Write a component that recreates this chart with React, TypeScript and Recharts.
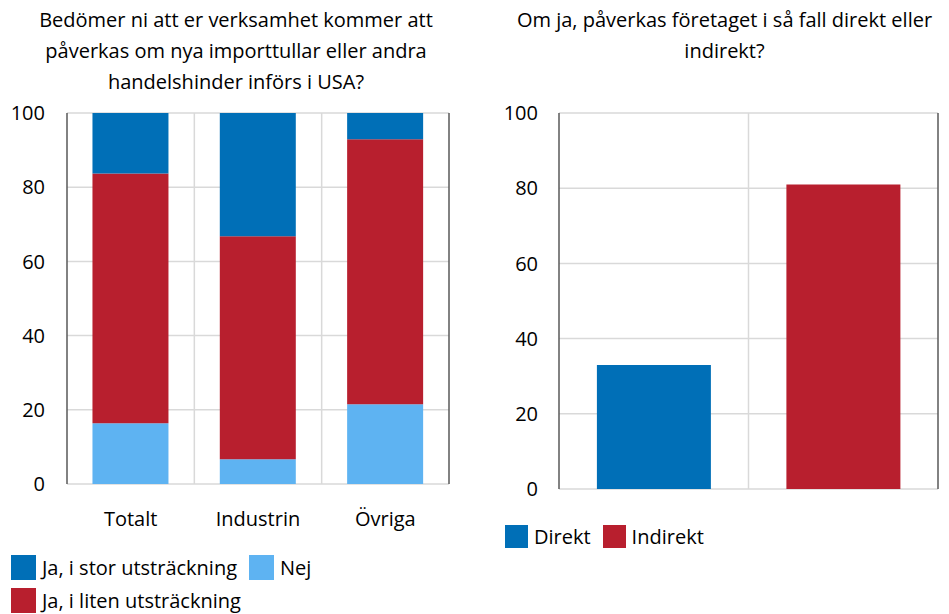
import React from "react";
import {
  BarChart,
  Bar,
  XAxis,
  YAxis,
  CartesianGrid,
  Legend,
} from "recharts";

// left panel
const categories = ["Totalt", "Industrin", "Övriga"];
const jaStor = [16.3, 33.2, 7.1];
const jaLiten = [67.3, 60.1, 71.4];
const nej = [16.4, 6.7, 21.5];

// right panel
const rightCategories = ["Direkt", "Indirekt"];
const rightValues = [33, 81];

const yTicks = [0, 20, 40, 60, 80, 100];

const BLUE = "#006FB7";
const RED = "#B81F2E";
const LIGHT = "#5EB3F2";
const AXIS = "#595959";
const GRID = "#D9D9D9";
const FONT = "'Open Sans', sans-serif";

const leftData = categories.map((c, i) => ({
  name: c,
  stor: jaStor[i],
  liten: jaLiten[i],
  nej: nej[i],
}));

const rightData = rightCategories.map((c, i) => ({
  name: c,
  Direkt: i === 0 ? rightValues[i] : 0,
  Indirekt: i === 1 ? rightValues[i] : 0,
}));

const leftLegend = [
  { label: "Ja, i stor utsträckning", color: BLUE },
  { label: "Nej", color: LIGHT },
  { label: "Ja, i liten utsträckning", color: RED },
];
const rightLegend = [
  { label: "Direkt", color: BLUE },
  { label: "Indirekt", color: RED },
];

function LegendBox({ items, size }: { items: { label: string; color: string }[]; size: number }) {
  return (
    <div style={{ display: "flex", flexWrap: "wrap", rowGap: 8, columnGap: 12 }}>
      {items.map((it) => (
        <div key={it.label} style={{ display: "flex", alignItems: "center", height: size }}>
          <span style={{ width: size, height: size, background: it.color, display: "inline-block" }} />
          <span style={{ marginLeft: 6, fontSize: 20, lineHeight: "24px", color: "#000", fontFamily: FONT, whiteSpace: "nowrap" }}>
            {it.label}
          </span>
        </div>
      ))}
    </div>
  );
}

// vertical grid lines at category boundaries
const splitLines = (n: number) => (props: any) => {
  const { offset } = props;
  const out: number[] = [];
  for (let i = 1; i < n; i++) out.push(offset.left + (offset.width * i) / n);
  return out;
};

const tickStyle = { fontSize: 20, fill: "#000", fontFamily: FONT };

export default function App() {
  return (
    <div style={{ position: "absolute", left: 0, top: 0, width: 949, height: 614, fontFamily: FONT, background: "#fff" }}>
      <div style={{ position: "absolute", left: 36, top: 4, width: 400, textAlign: "center", fontSize: 20, lineHeight: "31px" }}>
        Bedömer ni att er verksamhet kommer att
        <br />
        påverkas om nya importtullar eller andra
        <br />
        handelshinder införs i USA?
      </div>
      <div style={{ position: "absolute", left: 500, top: 4, width: 449, textAlign: "center", fontSize: 20, lineHeight: "31px" }}>
        Om ja, påverkas företaget i så fall direkt eller
        <br />
        indirekt?
      </div>

      <div style={{ position: "absolute", left: 0, top: 0 }}>
        <BarChart
          width={470}
          height={614}
          data={leftData}
          barCategoryGap="20%"
          margin={{ top: 113, right: 21, bottom: 90, left: 0 }}
        >
          <CartesianGrid stroke={GRID} strokeWidth={1.5} verticalCoordinatesGenerator={splitLines(3)} />
          <XAxis dataKey="name" height={40} tick={tickStyle} tickLine={false} axisLine={false} tickSize={0} tickMargin={28} />
          <YAxis domain={[0, 100]} ticks={yTicks} width={67} tick={tickStyle} tickLine={false} tickSize={0} tickMargin={22} axisLine={{ stroke: AXIS, strokeWidth: 1.5 }} />
          <YAxis yAxisId="l2" orientation="left" mirror domain={[0, 100]} ticks={yTicks} tick={false} axisLine={false} tickSize={10} tickLine={{ stroke: AXIS, strokeWidth: 1.5 }} />
          <YAxis yAxisId="r" orientation="right" mirror domain={[0, 100]} ticks={yTicks} tick={false} tickSize={10} tickLine={{ stroke: AXIS, strokeWidth: 1.5 }} axisLine={{ stroke: AXIS, strokeWidth: 1.5 }} />
          <Bar dataKey="nej" stackId="s" fill={LIGHT} isAnimationActive={false} />
          <Bar dataKey="liten" stackId="s" fill={RED} isAnimationActive={false} />
          <Bar dataKey="stor" stackId="s" fill={BLUE} isAnimationActive={false} />
          <Legend
            layout="horizontal"
            verticalAlign="middle"
            align="center"
            wrapperStyle={{ left: 11, top: 555, width: 340 }}
            content={() => <LegendBox items={leftLegend} size={25} />}
          />
        </BarChart>
      </div>

      <div style={{ position: "absolute", left: 490, top: 0 }}>
        <BarChart
          width={459}
          height={614}
          data={rightData}
          barCategoryGap="20%"
          margin={{ top: 113, right: 11, bottom: 125, left: 0 }}
        >
          <CartesianGrid stroke={GRID} strokeWidth={1.5} verticalCoordinatesGenerator={splitLines(2)} />
          <XAxis dataKey="name" hide />
          <YAxis domain={[0, 100]} ticks={yTicks} width={69} tick={tickStyle} tickLine={false} tickSize={0} tickMargin={21} axisLine={{ stroke: AXIS, strokeWidth: 1.5 }} />
          <YAxis yAxisId="l2" orientation="left" mirror domain={[0, 100]} ticks={yTicks} tick={false} axisLine={false} tickSize={10} tickLine={{ stroke: AXIS, strokeWidth: 1.5 }} />
          <YAxis yAxisId="r" orientation="right" mirror domain={[0, 100]} ticks={yTicks} tick={false} tickSize={10} tickLine={{ stroke: AXIS, strokeWidth: 1.5 }} axisLine={{ stroke: AXIS, strokeWidth: 1.5 }} />
          <Bar dataKey="Direkt" stackId="s" fill={BLUE} isAnimationActive={false} />
          <Bar dataKey="Indirekt" stackId="s" fill={RED} isAnimationActive={false} />
          <Legend
            layout="horizontal"
            verticalAlign="middle"
            align="center"
            wrapperStyle={{ left: 15, top: 525, width: 300 }}
            content={() => <LegendBox items={rightLegend} size={23} />}
          />
        </BarChart>
      </div>
    </div>
  );
}
